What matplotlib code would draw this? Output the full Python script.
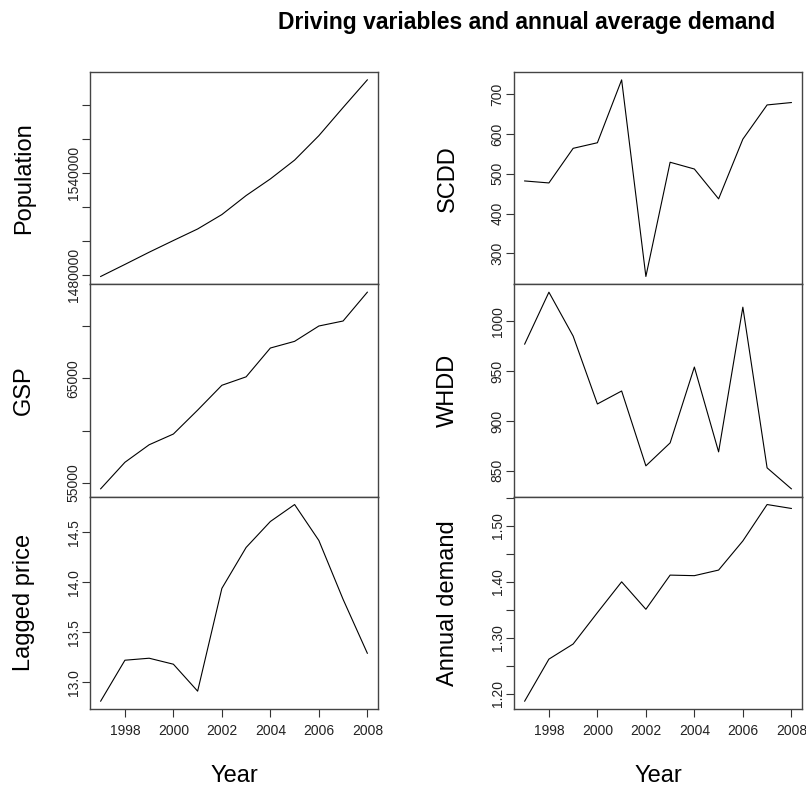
import matplotlib
matplotlib.use("Agg")
from matplotlib import pyplot as plt

plt.rcParams["font.family"] = ["Liberation Sans", "DejaVu Sans"]

years = [1997, 1998, 1999, 2000, 2001, 2002, 2003, 2004, 2005, 2006, 2007, 2008]

population = [1479000, 1486100, 1493300, 1500200, 1507000, 1515500,
              1526700, 1536500, 1547600, 1562000, 1578600, 1594900]
gsp = [54430, 56970, 58650, 59680, 61970, 64350,
       65160, 67920, 68560, 70030, 70510, 73270]
lagged_price = [12.81, 13.22, 13.24, 13.18, 12.91, 13.94,
                14.35, 14.61, 14.78, 14.42, 13.83, 13.29]
scdd = [482, 477, 564, 578, 736, 242, 529, 512, 437, 587, 673, 679]
whdd = [977, 1029, 985, 917, 930, 855, 878, 954, 869, 1014, 853, 832]
annual_demand = [1.187, 1.262, 1.289, 1.345, 1.400, 1.351,
                 1.412, 1.411, 1.421, 1.473, 1.538, 1.531]

# y ticks and which labels R kept
pop_ticks = [1480000, 1500000, 1520000, 1540000, 1560000, 1580000]
pop_labels = ["1480000", "", "", "1540000", "", ""]
gsp_ticks = [55000, 60000, 65000, 70000]
gsp_labels = ["55000", "", "65000", ""]
price_ticks = [13.0, 13.5, 14.0, 14.5]
price_labels = ["13.0", "13.5", "14.0", "14.5"]
scdd_ticks = [300, 400, 500, 600, 700]
scdd_labels = ["300", "400", "500", "600", "700"]
whdd_ticks = [850, 900, 950, 1000]
whdd_labels = ["850", "900", "950", "1000"]
demand_ticks = [1.20, 1.25, 1.30, 1.35, 1.40, 1.45, 1.50, 1.55]
demand_labels = ["1.20", "", "1.30", "", "1.40", "", "1.50", ""]
year_ticks = [1998, 2000, 2002, 2004, 2006, 2008]

panels = [
    ("Population", population, pop_ticks, pop_labels, 0, 0),
    ("GSP", gsp, gsp_ticks, gsp_labels, 1, 0),
    ("Lagged price", lagged_price, price_ticks, price_labels, 2, 0),
    ("SCDD", scdd, scdd_ticks, scdd_labels, 0, 1),
    ("WHDD", whdd, whdd_ticks, whdd_labels, 1, 1),
    ("Annual demand", annual_demand, demand_ticks, demand_labels, 2, 1),
]

W, H = 806, 789
fig = plt.figure(figsize=(W / 100, H / 100), dpi=100)

col_x = [90, 514]
ax_w = 288
top = 72
panel_h = (709 - 72) / 3

for name, values, ticks, labels, row, col in panels:
    y_top = top + row * panel_h
    ax = fig.add_axes([col_x[col] / W, 1 - (y_top + panel_h) / H, ax_w / W, panel_h / H])
    ax.plot(years, values, color="black", lw=0.8)
    pad_x = (years[-1] - years[0]) * 0.04
    ax.set_xlim(years[0] - pad_x, years[-1] + pad_x)
    lo, hi = min(values), max(values)
    pad_y = (hi - lo) * 0.04
    ax.set_ylim(lo - pad_y, hi + pad_y)
    ax.set_yticks(ticks)
    ax.set_yticklabels(labels, rotation=90, va="center")
    ax.tick_params(axis="y", direction="out", length=5.8, width=0.8, pad=1,
                   labelsize=10, colors="#333333", labelcolor="#222222")
    for sp in ax.spines.values():
        sp.set_color("#444444")
        sp.set_linewidth(1.0)
    ax.set_ylabel(name, fontsize=17)
    ax.yaxis.set_label_coords(-0.19, 0.5)
    if row == 2:
        ax.set_xticks(year_ticks)
        ax.tick_params(axis="x", direction="out", length=5.8, width=0.8, pad=5,
                       labelsize=10, colors="#333333", labelcolor="#222222")
        ax.set_xlabel("Year", fontsize=17, va="top")
        ax.xaxis.set_label_coords(0.5, -0.265)
    else:
        ax.tick_params(axis="x", bottom=False, labelbottom=False)

fig.text(527 / W, 1 - 22 / H, "Driving variables and annual average demand",
         ha="center", va="center", fontsize=16.5, fontweight="bold")

fig.savefig("out.png", dpi=100)
